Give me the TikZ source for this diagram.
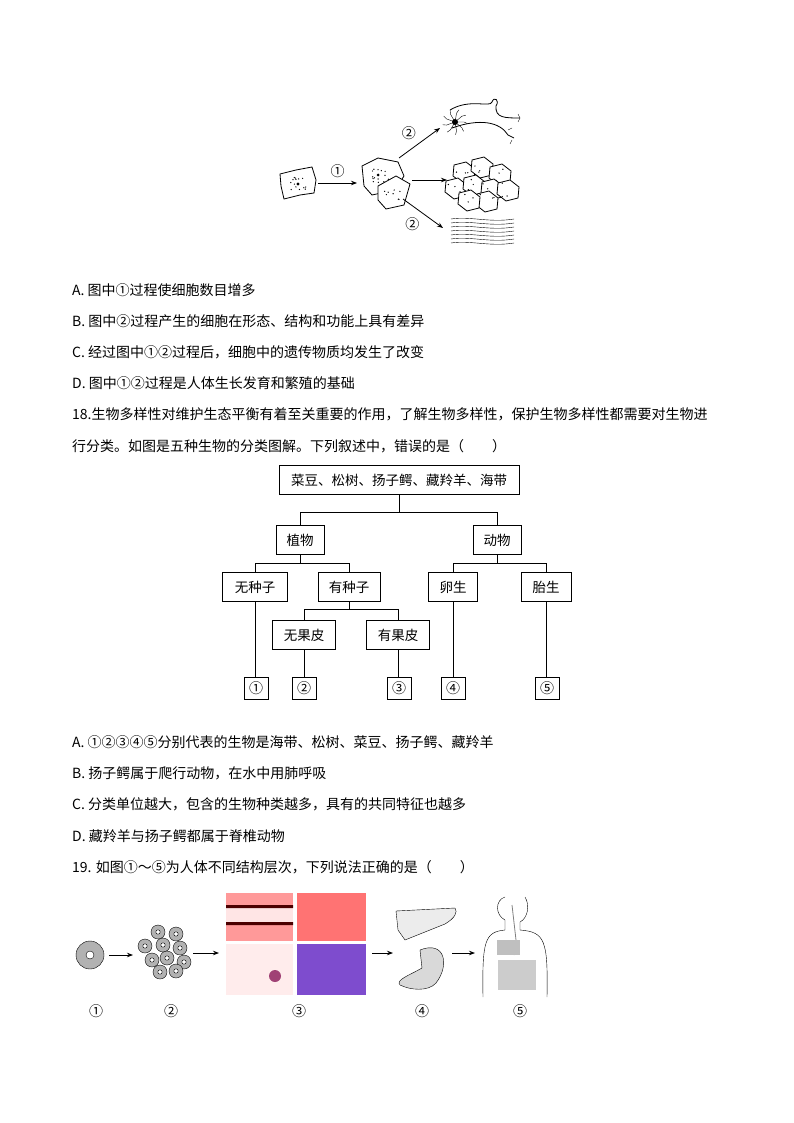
\documentclass[tikz,border=0pt]{standalone}
\usepackage{fontspec}
\setmainfont{Noto Sans CJK SC}
\usetikzlibrary{arrows.meta,positioning}
\tikzset{
  box/.style={draw,thick,minimum height=29pt,inner sep=3pt,font=\fontsize{13.5}{15}\selectfont},
  leaf/.style={draw,thick,minimum width=24pt,minimum height=22pt,inner sep=0pt,font=\fontsize{14}{15}\selectfont},
  txt/.style={anchor=west,inner sep=0pt,font=\fontsize{14}{16}\selectfont},
  lab/.style={font=\fontsize{14}{16}\selectfont},
  arr/.style={-{Stealth[length=6pt]},thick},
  cellwall/.style={draw,thick,fill=white},
}
\begin{document}
\begin{tikzpicture}[x=1pt,y=-1pt]
	\useasboundingbox (0,0) rectangle (794,1123);

	% top figure: cells
	\def\dots#1#2{
		\foreach \i in {1,...,#2}{\fill #1 ++({rnd*18-9},{rnd*14-7}) circle[radius=0.7];}
	}
	\pgfmathsetseed{7}
	\draw[cellwall] (280,174) -- (296,170) -- (312,167) -- (316,180) -- (314,193) -- (300,195) -- (284,199) -- (281,186) -- cycle;
	\dots{(297,183)}{14}
	\fill (298,184) circle[radius=1.6];
	\draw[cellwall] (362,166) -- (378,158) -- (398,162) -- (404,176) -- (395,190) -- (372,195) -- (364,186) -- cycle;
	\draw[cellwall] (378,186) -- (396,176) -- (410,184) -- (404,205) -- (386,209) -- (378,200) -- cycle;
	\dots{(381,176)}{14}
	\dots{(393,194)}{8}
	\fill (378,175) circle[radius=1.5];
	\coordinate (c1) at (318,183);
	\coordinate (c2) at (357,183);
	\draw[arr] (c1) -- (c2) node[midway,above=2pt,lab] {①};
	\coordinate (s1) at (399,158);
	\coordinate (n1) at (440,128);
	\draw[arr] (s1) -- (n1) node[midway,above left=0pt,lab] {②};
	\coordinate (s2) at (412,180);
	\coordinate (e1) at (447,180);
	\draw[arr] (s2) -- (e1);
	\coordinate (s3) at (403,199);
	\coordinate (m1) at (443,228);
	\draw[arr] (s3) -- (m1) node[midway,below left=0pt,lab] {②};
	% neuron
	\draw[thick] (450,110) .. controls (470,98) and (490,108) .. (492,102) .. controls (494,96) and (500,100) .. (496,106) .. controls (495,118) and (505,118) .. (520,118);
	\draw[thick] (452,128) .. controls (480,118) and (500,122) .. (508,135) -- (514,138);
	\foreach \a in {0,40,...,320}{\draw (455,122) -- ++(\a:9) -- ++(\a+25:4);}
	\fill (455,122) circle[radius=3];
	\draw (518,114) -- (520,118) -- (518,122) (508,130) -- (512,128) (512,140) -- (510,144);
	% cluster of cells
	\foreach \p/\r in {464/172,482/167,500/174,456/188,474/185,492/189,508/190,487/201,469/200}{
		\draw[cellwall] (\p,\r) ++(-10,-7) -- ++(12,-3) -- ++(9,7) -- ++(-1,11) -- ++(-12,3) -- ++(-9,-7) -- cycle;
		\dots{(\p,\r)}{3}
	}
	% muscle
	\foreach \k in {0,...,6}{
		\draw (451,{219+4*\k}) .. controls (470,{216+4*\k}) and (490,{223+4*\k}) .. (514,{219+4*\k});
	}

	% statements 17
	\node[txt] (a17) at (72,290) {A. 图中①过程使细胞数目增多};
	\node[txt] (b17) at (72,321) {B. 图中②过程产生的细胞在形态、结构和功能上具有差异};
	\node[txt] (c17) at (72,352) {C. 经过图中①②过程后，细胞中的遗传物质均发生了改变};
	\node[txt] (d17) at (72,383) {D. 图中①②过程是人体生长发育和繁殖的基础};
	\node[txt] (q18) at (72,414) {18.生物多样性对维护生态平衡有着至关重要的作用，了解生物多样性，保护生物多样性都需要对生物进};
	\node[txt] (q18b) at (72,446) {行分类。如图是五种生物的分类图解。下列叙述中，错误的是（\hspace{2em}）};

	% tree
	\node[box,minimum width=240pt] (all) at (399,480) {菜豆、松树、扬子鳄、藏羚羊、海带};
	\node[box,minimum width=48pt] (plant) at (300,540) {植物};
	\node[box,minimum width=48pt] (anim) at (497,540) {动物};
	\node[box,minimum width=65pt] (noseed) at (255,587) {无种子};
	\node[box,minimum width=62pt] (seed) at (349,587) {有种子};
	\node[box,minimum width=49pt] (egg) at (453,587) {卵生};
	\node[box,minimum width=50pt] (viv) at (546,587) {胎生};
	\node[box,minimum width=63pt] (nopeel) at (304,635) {无果皮};
	\node[box,minimum width=63pt] (peel) at (398,635) {有果皮};
	\node[leaf] (l1) at (256,688) {①};
	\node[leaf] (l2) at (304,688) {②};
	\node[leaf] (l3) at (399,688) {③};
	\node[leaf] (l4) at (453,688) {④};
	\node[leaf] (l5) at (547,688) {⑤};
	\draw (all.south) -- ++(0,17) coordinate (j1);
	\draw (plant.north) |- (j1) -| (anim.north);
	\draw (plant.south) -- ++(0,8) coordinate (j2);
	\draw (noseed.north) |- (j2) -| (seed.north);
	\draw (anim.south) -- ++(0,8) coordinate (j3);
	\draw (egg.north) |- (j3) -| (viv.north);
	\draw (seed.south) -- ++(0,7) coordinate (j4);
	\draw (nopeel.north) |- (j4) -| (peel.north);
	\draw (noseed.south) -- (noseed.south |- l1.north);
	\draw (nopeel.south) -- (l2.north);
	\draw (peel.south) -- (peel.south |- l3.north);
	\draw (egg.south) -- (l4.north);
	\draw (viv.south) -- (viv.south |- l5.north);

	% statements 18
	\node[txt] (a18) at (72,742) {A. ①②③④⑤分别代表的生物是海带、松树、菜豆、扬子鳄、藏羚羊};
	\node[txt] (b18) at (72,773) {B. 扬子鳄属于爬行动物，在水中用肺呼吸};
	\node[txt] (c18) at (72,804) {C. 分类单位越大，包含的生物种类越多，具有的共同特征也越多};
	\node[txt] (d18) at (72,836) {D. 藏羚羊与扬子鳄都属于脊椎动物};
	\node[txt] (q19) at (72,867) {19. 如图①～⑤为人体不同结构层次，下列说法正确的是（\hspace{2em}）};

	% bottom figure
	\def\cell#1{\fill[gray!60,draw=black] #1 circle[radius=14]; \fill[white,draw=black] #1 circle[radius=4];}
	\def\smallcell#1{\fill[gray!60,draw=black] #1 circle[radius=7]; \fill[white,draw=black] #1 circle[radius=2.2];}
	\cell{(90,955)}
	\foreach \p in {(158,932),(176,934),(145,946),(163,945),(180,948),(152,960),(167,958),(184,962),(160,972),(176,971)}{\smallcell{\p}}
	\coordinate (b1) at (109,955);
	\coordinate (b2) at (133,955);
	\draw[arr] (b1) -- (b2);
	\coordinate (b3) at (193,953);
	\coordinate (b4) at (219,953);
	\draw[arr] (b3) -- (b4);
	\fill[pink!80!red] (226,893) rectangle (293,941);
	\fill[red!40!pink] (297,893) rectangle (366,941);
	\fill[pink!30] (226,944) rectangle (293,995);
	\fill[blue!45!violet!70] (297,944) rectangle (366,995);
	\fill[pink!40] (226,908) rectangle (293,922);
	\fill[black!70!red] (226,905) rectangle (293,908) (226,922) rectangle (293,925);
	\fill[magenta!60!black] (275,976) circle[radius=6];
	\coordinate (b5) at (372,953);
	\coordinate (b6) at (393,953);
	\draw[arr] (b5) -- (b6);
	% liver and stomach
	\draw[fill=gray!15] (396,911) -- (455,908) .. controls (458,912) and (455,918) .. (445,924) -- (405,940) -- (398,930) -- cycle;
	\draw[fill=gray!30] (420,950) .. controls (445,940) and (450,965) .. (436,983) .. controls (428,992) and (410,990) .. (400,985) .. controls (395,980) and (410,975) .. (422,968) -- cycle;
	\coordinate (b7) at (452,953);
	\coordinate (b8) at (475,953);
	\draw[arr] (b7) -- (b8);
	% body outline
	\draw (505,897) .. controls (495,900) and (495,915) .. (505,920) -- (505,930) .. controls (485,932) and (482,940) .. (483,997)
	      (525,897) .. controls (530,905) and (528,918) .. (520,922) -- (520,930) .. controls (545,932) and (548,940) .. (547,997);
	\draw[gray,thick] (512,905) -- (516,940) -- (514,955);
	\fill[gray!50] (497,940) rectangle (520,955);
	\fill[gray!40] (498,960) rectangle (536,990);
	% labels
	\node[lab] (p1) at (96,1011) {①};
	\node[lab] (p2) at (171,1011) {②};
	\node[lab] (p3) at (299,1011) {③};
	\node[lab] (p4) at (422,1011) {④};
	\node[lab] (p5) at (520,1011) {⑤};
\end{tikzpicture}
\end{document}
